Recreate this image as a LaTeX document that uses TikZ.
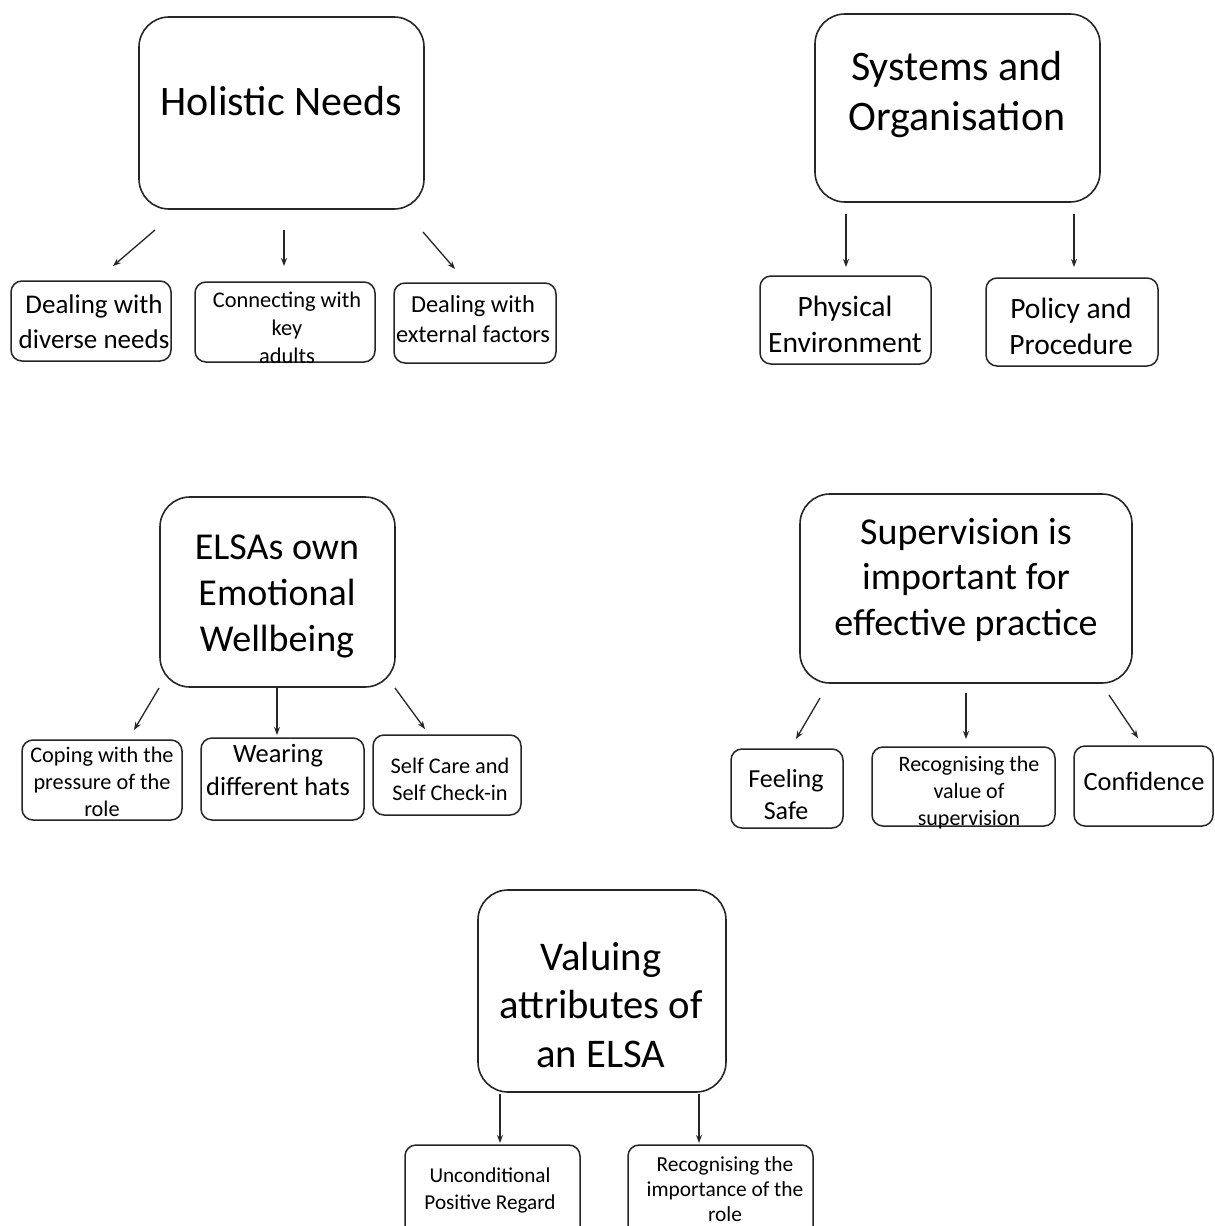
\documentclass[tikz,border=0pt]{standalone}
\usepackage{fontspec}
\setmainfont{Carlito}
\usetikzlibrary{arrows.meta}
\begin{document}
\begin{tikzpicture}[x=1pt,y=-1pt,
  bigbox/.style={draw=black!85, line width=1.6pt, rounded corners=30pt, inner sep=0pt},
  smallbox/.style={draw=black!85, line width=1.5pt, rounded corners=11pt, inner sep=0pt},
  txt/.style={align=center, inner sep=0pt, text=black},
  conn/.style={draw=black!85, line width=1.3pt, -{Stealth[length=8pt,width=6pt]}}
]
\clip (0,0) rectangle (1215,1226);
\fill[white] (0,0) rectangle (1215,1226);

% ---------- Holistic Needs ----------
\node[bigbox, minimum width=285pt, minimum height=192pt] (hn) at (281.5,113) {};
\node[txt, font=\fontsize{42}{50}\selectfont] (hnt) at (281,101) {Holistic Needs};
\node[smallbox, minimum width=160pt, minimum height=80pt] (dd) at (91,321) {};
\node[txt, font=\fontsize{27}{35}\selectfont] (ddt) at (94,322) {Dealing with\\diverse needs};
\node[smallbox, minimum width=180pt, minimum height=80pt] (ck) at (285,322) {};
\node[txt, font=\fontsize{22.4}{28}\selectfont] (ckt) at (287,328) {Connecting with\\key\\adults};
\node[smallbox, minimum width=162pt, minimum height=80pt] (de) at (475,323) {};
\node[txt, font=\fontsize{24.4}{30}\selectfont] (det) at (473,319) {Dealing with\\external factors};
\coordinate (a1s) at (155,230); \coordinate (a1e) at (113,266);
\coordinate (a2s) at (284,230); \coordinate (a2e) at (284,266);
\coordinate (a3s) at (423,232); \coordinate (a3e) at (455,269);
\draw[conn] (a1s) -- (a1e);
\draw[conn] (a2s) -- (a2e);
\draw[conn] (a3s) -- (a3e);

% ---------- Systems and Organisation ----------
\node[bigbox, minimum width=285pt, minimum height=188pt] (so) at (957.5,108) {};
\node[txt, font=\fontsize{42}{50}\selectfont] (sot) at (957,95) {Systems and\\Organisation};
\node[smallbox, minimum width=171pt, minimum height=88pt] (pe) at (845.5,320) {};
\node[txt, font=\fontsize{29.5}{36}\selectfont] (pet) at (845,324) {Physical\\Environment};
\node[smallbox, minimum width=172pt, minimum height=88pt] (pp) at (1072,322) {};
\node[txt, font=\fontsize{29.5}{36}\selectfont] (ppt) at (1071,326) {Policy and\\Procedure};
\coordinate (b1s) at (846,214); \coordinate (b1e) at (846,267);
\coordinate (b2s) at (1074,214); \coordinate (b2e) at (1074,267);
\draw[conn] (b1s) -- (b1e);
\draw[conn] (b2s) -- (b2e);

% ---------- ELSAs own Emotional Wellbeing ----------
\node[bigbox, minimum width=235pt, minimum height=190pt] (ew) at (277.5,592) {};
\node[txt, font=\fontsize{38}{46}\selectfont] (ewt) at (277,596) {ELSAs own\\Emotional\\Wellbeing};
\node[smallbox, minimum width=160pt, minimum height=80pt] (cp) at (102,780) {};
\node[txt, font=\fontsize{22.3}{27}\selectfont] (cpt) at (102,782) {Coping with the\\pressure of the\\role};
\node[smallbox, minimum width=163pt, minimum height=82pt] (wh) at (282.5,779) {};
\node[txt, font=\fontsize{26.4}{33}\selectfont] (wht) at (278,770.5) {Wearing\\different hats};
\node[smallbox, minimum width=148pt, minimum height=80pt] (sc) at (447,775) {};
\node[txt, font=\fontsize{22.3}{27}\selectfont] (sct) at (450,779.5) {Self Care and\\Self Check-in};
\coordinate (c1s) at (159,688); \coordinate (c1e) at (134,730);
\coordinate (c2s) at (277,688); \coordinate (c2e) at (277,735);
\coordinate (c3s) at (395,688); \coordinate (c3e) at (425,729);
\draw[conn] (c1s) -- (c1e);
\draw[conn] (c2s) -- (c2e);
\draw[conn] (c3s) -- (c3e);

% ---------- Supervision ----------
\node[bigbox, minimum width=332pt, minimum height=189pt] (sv) at (966,588.5) {};
\node[txt, font=\fontsize{38}{45.5}\selectfont] (svt) at (966,579.5) {Supervision is\\important for\\effective practice};
\node[smallbox, minimum width=112pt, minimum height=79pt] (fsb) at (787,788.5) {};
\node[txt, font=\fontsize{26}{32}\selectfont] (fst) at (786,795) {Feeling\\Safe};
\node[smallbox, minimum width=183pt, minimum height=79pt] (rv) at (963.5,786.5) {};
\node[txt, font=\fontsize{22}{27}\selectfont] (rvt) at (969,792.5) {Recognising the\\value of\\supervision};
\node[smallbox, minimum width=139pt, minimum height=80pt] (cf) at (1143.5,786) {};
\node[txt, font=\fontsize{26.4}{32}\selectfont] (cft) at (1144,781) {Confidence};
\coordinate (d1s) at (820,698); \coordinate (d1e) at (796,739);
\coordinate (d2s) at (966,693); \coordinate (d2e) at (966,739);
\coordinate (d3s) at (1109,695); \coordinate (d3e) at (1138,738);
\draw[conn] (d1s) -- (d1e);
\draw[conn] (d2s) -- (d2e);
\draw[conn] (d3s) -- (d3e);

% ---------- Valuing attributes of an ELSA ----------
\node[bigbox, minimum width=248pt, minimum height=202pt] (va) at (602,991) {};
\node[txt, font=\fontsize{40.7}{48.5}\selectfont] (vat) at (601,1005) {Valuing\\attributes of\\an ELSA};
\node[smallbox, minimum width=175pt, minimum height=95pt] (up) at (492.5,1192.5) {};
\node[txt, font=\fontsize{21.2}{27}\selectfont] (upt) at (490,1190) {Unconditional\\Positive Regard};
\node[smallbox, minimum width=185pt, minimum height=95pt] (ri) at (720.5,1192.5) {};
\node[txt, font=\fontsize{21.4}{25}\selectfont] (rit) at (725,1189) {Recognising the\\importance of the\\role};
\coordinate (e1s) at (500,1094); \coordinate (e1e) at (500,1143);
\coordinate (e2s) at (699,1094); \coordinate (e2e) at (699,1143);
\draw[conn] (e1s) -- (e1e);
\draw[conn] (e2s) -- (e2e);
\end{tikzpicture}
\end{document}
